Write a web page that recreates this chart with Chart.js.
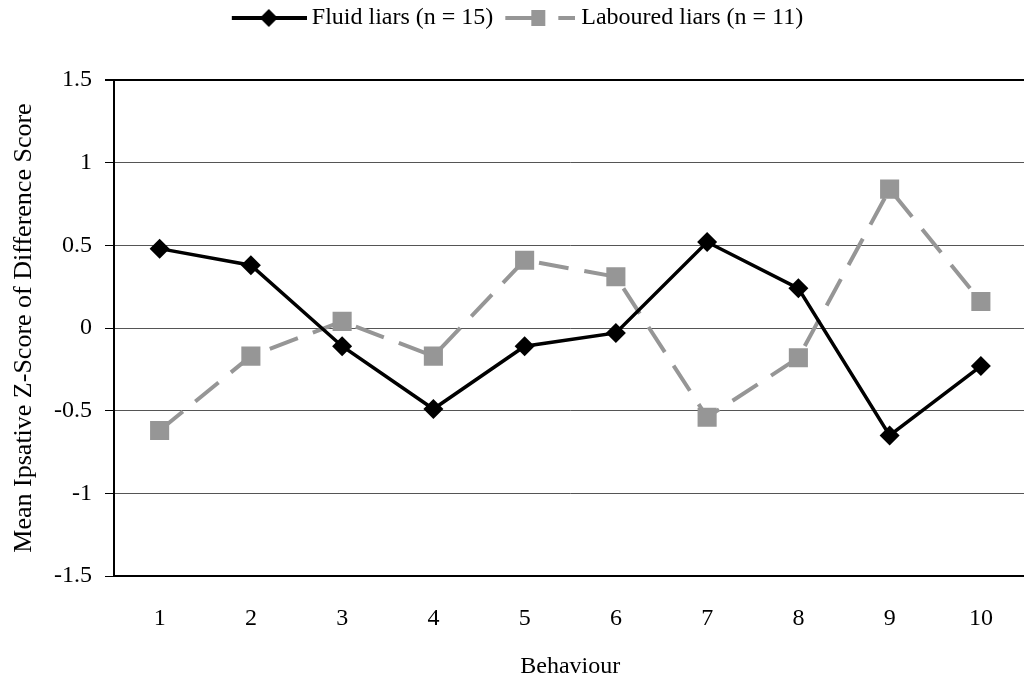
<!DOCTYPE html>
<html>
<head>
<meta charset="utf-8">
<script src="https://cdn.jsdelivr.net/npm/chart.js@4.4.1/dist/chart.umd.min.js"></script>
<style>
  html, body { margin: 0; padding: 0; overflow: hidden; background: #fff; }
</style>
</head>
<body>
<canvas id="chart" width="1040" height="681"></canvas>
<script>
// behaviours 1..10
var behaviours = ['1', '2', '3', '4', '5', '6', '7', '8', '9', '10'];
var fluidLiars = [0.48, 0.38, -0.11, -0.49, -0.11, -0.03, 0.52, 0.24, -0.65, -0.23];
var labouredLiars = [-0.62, -0.17, 0.04, -0.17, 0.41, 0.31, -0.54, -0.18, 0.84, 0.16];
var yTicks = [-1.5, -1, -0.5, 0, 0.5, 1, 1.5];

var FONT = 'Liberation Serif';
var GREY = '#969696';

// little legend pictures: line with marker in the middle, like excel does
function legendIcon(kind) {
    var c = document.createElement('canvas');
    c.height = 22;
    var g = c.getContext('2d');
    if (kind == 'fluid') {
        c.width = 84;
        g = c.getContext('2d');
        g.strokeStyle = '#000'; g.lineWidth = 4;
        g.beginPath(); g.moveTo(9, 11); g.lineTo(84, 11); g.stroke();
        g.fillStyle = '#000';
        var cx = 9 + 37;
        g.beginPath(); g.moveTo(cx, 2); g.lineTo(cx + 9, 11); g.lineTo(cx, 20); g.lineTo(cx - 9, 11); g.closePath(); g.fill();
    } else {
        c.width = 82;
        g = c.getContext('2d');
        g.strokeStyle = GREY; g.lineWidth = 4;
        g.beginPath(); g.moveTo(12, 11); g.lineTo(38, 11); g.moveTo(65, 11); g.lineTo(82, 11); g.stroke();
        g.fillStyle = GREY;
        g.fillRect(38, 3, 14, 16);
    }
    return c;
}
var icons = [legendIcon('fluid'), legendIcon('laboured')];

var fixLayout = {
    id: 'fixLayout',
    beforeInit: function(chart) {
        var lg = chart.legend;
        var fit = lg.fit;
        lg.fit = function() { fit.call(this); this.height = 80; };
    }
};

new Chart(document.getElementById('chart'), {
    type: 'line',
    data: {
        labels: behaviours,
        datasets: [{
            label: 'Fluid liars (n = 15)',
            data: fluidLiars,
            borderColor: '#000',
            backgroundColor: '#000',
            borderWidth: 3.5,
            pointStyle: 'rectRot',
            pointRadius: 10,
            pointHoverRadius: 10,
            pointBorderWidth: 0,
            tension: 0
        }, {
            label: 'Laboured liars (n = 11)',
            data: labouredLiars,
            borderColor: GREY,
            backgroundColor: GREY,
            borderWidth: 4,
            borderDash: [30, 16],
            pointStyle: 'rect',
            pointRadius: 13.5,
            pointHoverRadius: 13.5,
            pointBorderWidth: 0,
            tension: 0
        }]
    },
    options: {
        responsive: false,
        animation: false,
        events: [],
        layout: { padding: { left: 0, right: 7, top: 0, bottom: 0 } },
        plugins: {
            tooltip: { enabled: false },
            legend: {
                position: 'top',
                labels: {
                    usePointStyle: true,
                    pointStyleWidth: 70,
                    boxHeight: 22,
                    padding: 6,
                    color: '#000',
                    font: { family: FONT, size: 24 },
                    generateLabels: function(chart) {
                        var items = Chart.defaults.plugins.legend.labels.generateLabels(chart);
                        items.forEach(function(it, i) { it.pointStyle = icons[i]; });
                        return items;
                    }
                }
            }
        },
        scales: {
            x: {
                offset: true,
                grid: { display: false },
                border: { display: true, color: '#000', width: 2 },
                ticks: { color: '#000', padding: 20, font: { family: FONT, size: 24 } },
                title: {
                    display: true, text: 'Behaviour', color: '#000',
                    font: { family: FONT, size: 24 }, padding: { top: 0, bottom: 0 }
                },
                afterFit: function(s) { s.height = 105; }
            },
            y: {
                min: -1.5, max: 1.5,
                afterBuildTicks: function(s) { s.ticks = yTicks.map(function(v) { return { value: v }; }); },
                grid: {
                    color: function(ctx) { return ctx.tick && ctx.tick.value == 1.5 ? '#000' : '#555'; },
                    lineWidth: function(ctx) { return ctx.tick && ctx.tick.value == 1.5 ? 2 : 1; },
                    tickColor: '#000',
                    tickLength: 9
                },
                border: { display: true, color: '#000', width: 2 },
                ticks: {
                    color: '#000', padding: 13, font: { family: FONT, size: 24 },
                    callback: function(v) { return String(v); }
                },
                title: {
                    display: true, text: 'Mean Ipsative Z-Score of Difference Score', color: '#000',
                    font: { family: FONT, size: 26 }, padding: { top: 9, bottom: 0 }
                },
                afterFit: function(s) { s.width = 114; }
            }
        }
    },
    plugins: [fixLayout]
});
</script>
</body>
</html>
